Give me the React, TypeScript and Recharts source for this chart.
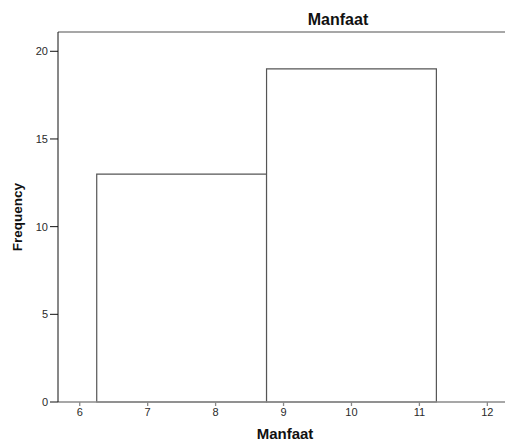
import { ComposedChart, XAxis, YAxis, ReferenceArea, ReferenceLine, Line } from "recharts";

// histogram bins
const binStarts = [6.25, 8.75];
const binEnds = [8.75, 11.25];
const counts = [13, 19];

const xTicks = [6, 7, 8, 9, 10, 11, 12];
const yTicks = [0, 5, 10, 15, 20];

const X_DOMAIN: [number, number] = [5.68, 12.26];
const Y_MAX = 21.1;

const FONT = "Arial, 'Liberation Sans', sans-serif";

const data = counts.map((c, i) => ({ mid: (binStarts[i] + binEnds[i]) / 2, count: c }));

const App = () => {
  return (
    <div style={{ position: "absolute", left: 0, top: 0, width: 505, height: 441, background: "#fff", overflow: "hidden" }}>
      <ComposedChart
        width={505}
        height={441}
        data={data}
        margin={{ top: 32, right: 0, bottom: 0, left: 0 }}
        style={{ fontFamily: FONT }}
      >
        <XAxis
          dataKey="mid"
          type="number"
          domain={X_DOMAIN}
          ticks={xTicks}
          allowDataOverflow
          height={39}
          tickSize={4}
          tickMargin={2}
          stroke="#8a8a8a"
          strokeWidth={1.3}
          tick={{ fill: "#2a2a2a", fontSize: 11, fontFamily: FONT }}
        />
        <YAxis
          type="number"
          domain={[0, Y_MAX]}
          ticks={yTicks}
          allowDataOverflow
          width={58}
          tickSize={8}
          tickMargin={2}
          stroke="#111"
          tick={{ fill: "#2a2a2a", fontSize: 11, fontFamily: FONT }}
        />
        {counts.map((c, i) => (
          <ReferenceArea
            key={i}
            x1={binStarts[i]}
            x2={binEnds[i]}
            y1={0}
            y2={c}
            fill="#fff"
            fillOpacity={1}
            stroke="#555"
            strokeWidth={1.2}
          />
        ))}
        <ReferenceLine y={Y_MAX} stroke="#8a8a8a" strokeWidth={1.5} />
        <Line dataKey="count" stroke="none" dot={false} activeDot={false} isAnimationActive={false} />
        <text x={338} y={25} textAnchor="middle" fontSize={16} fontWeight="bold" fill="#111" fontFamily={FONT}>
          Manfaat
        </text>
        <text x={285} y={439} textAnchor="middle" fontSize={15} fontWeight="bold" fill="#111" fontFamily={FONT}>
          Manfaat
        </text>
        <text
          x={17}
          y={217}
          transform="rotate(-90 17 217)"
          textAnchor="middle"
          dominantBaseline="central"
          fontSize={13.5}
          fontWeight="bold"
          fill="#111"
          fontFamily={FONT}
        >
          Frequency
        </text>
      </ComposedChart>
    </div>
  );
};

export default App;
